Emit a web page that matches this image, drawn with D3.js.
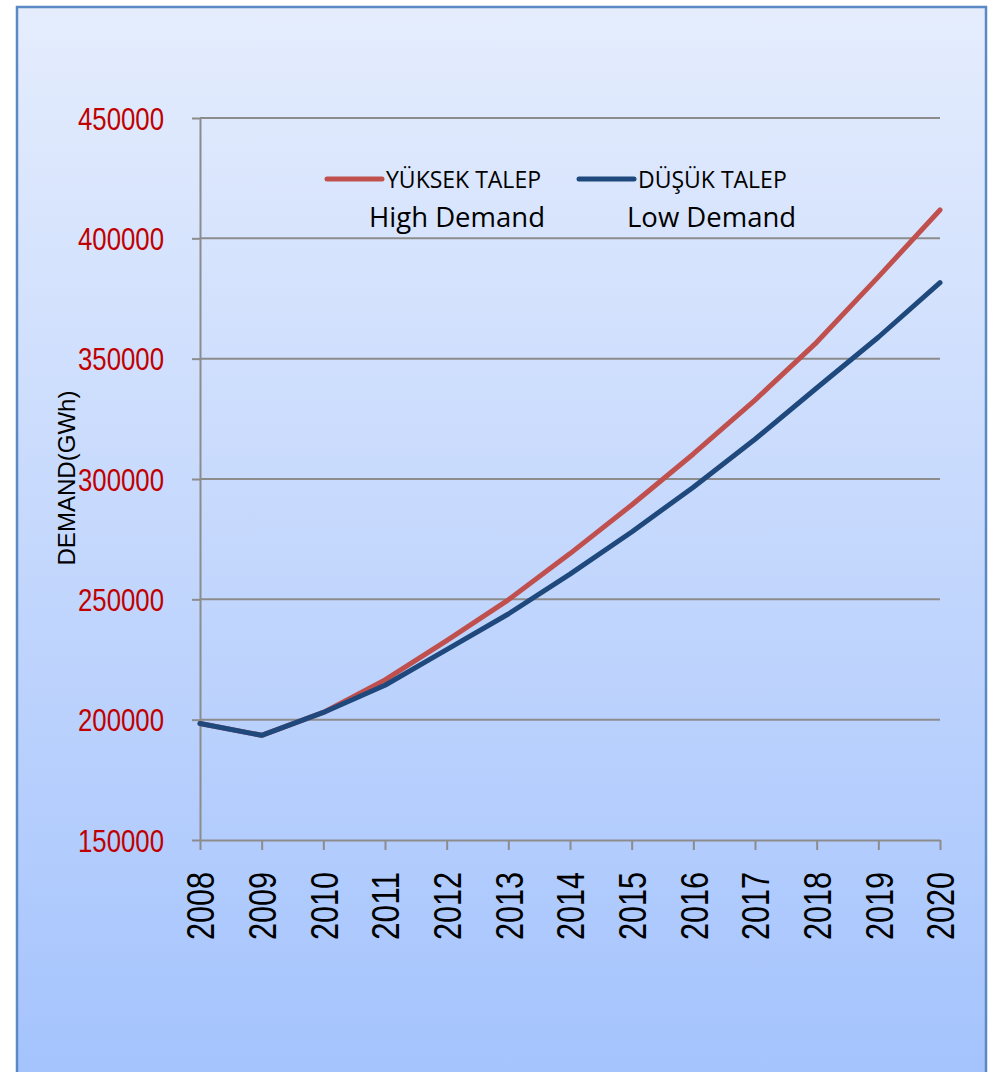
<!DOCTYPE html>
<html>
<head>
<meta charset="utf-8">
<script src="https://cdn.jsdelivr.net/npm/d3@7"></script>
<style>
  body { margin: 0; background: #fff; }
</style>
</head>
<body>
<div id="chart"></div>
<script>
const years = [2008, 2009, 2010, 2011, 2012, 2013, 2014, 2015, 2016, 2017, 2018, 2019, 2020];
const highDemand = [198400, 193500, 203000, 216500, 232800, 249800, 269000, 289200, 310400, 332800, 356800, 384000, 411800];
const lowDemand = [198400, 193500, 203000, 214300, 229100, 243900, 260500, 278000, 296600, 316500, 337800, 358900, 381600];
const yTicks = [150000, 200000, 250000, 300000, 350000, 400000, 450000];
const seriesNames = ["YÜKSEK TALEP", "DÜŞÜK TALEP"];
const seriesNotes = ["High Demand", "Low Demand"];

const outerWidth = 996;
const outerHeight = 1072;
const margin = { left: 200, top: 118, right: 56, bottom: 232 };

const innerWidth = outerWidth - (margin.left + margin.right);
const innerHeight = outerHeight - (margin.top + margin.bottom);

const svg = d3.select('#chart')
    .append('svg')
    .attr('width', outerWidth)
    .attr('height', outerHeight);

const grad = svg.append('defs').append('linearGradient')
    .attr('id', 'bg')
    .attr('x1', 0).attr('y1', 0).attr('x2', 0).attr('y2', 1);
grad.append('stop').attr('offset', '0%').attr('stop-color', '#e5edfd');
grad.append('stop').attr('offset', '100%').attr('stop-color', '#a4c3fd');

// chart frame
svg.append('rect')
    .attr('x', 17).attr('y', 7)
    .attr('width', 969).attr('height', 1075)
    .attr('fill', 'url(#bg)')
    .attr('stroke', '#5b89c4')
    .attr('stroke-width', 2.5);

const xScale = d3.scalePoint()
    .domain(years)
    .range([0, innerWidth]);
const yScale = d3.scaleLinear()
    .domain([150000, 450000])
    .range([innerHeight, 0]);

const g = svg.append('g')
    .attr("transform", "translate(" + margin.left + "," + margin.top + ")");

// gridlines
g.selectAll('.grid')
    .data(yTicks.slice(1))
    .enter()
    .append('line')
    .attr('x1', 0).attr('x2', innerWidth)
    .attr('y1', d => yScale(d)).attr('y2', d => yScale(d))
    .attr('stroke', '#8c8c8c')
    .attr('stroke-width', 2);

const xAxis = d3.axisBottom(xScale)
    .tickSize(10)
    .tickSizeOuter(0);
const yAxis = d3.axisLeft(yScale)
    .tickValues(yTicks)
    .tickFormat(d3.format('d'))
    .tickSize(8)
    .tickPadding(28)
    .tickSizeOuter(0);

const xAxisG = g.append("g")
    .attr("transform", "translate(0," + innerHeight + ")")
    .call(xAxis);
const yAxisG = g.append("g")
    .call(yAxis);

[xAxisG, yAxisG].forEach(a => {
  a.selectAll('path, line').attr('stroke', '#8c8c8c').attr('stroke-width', 2);
});

// narrow look: squeeze the regular sans to the label widths
yAxisG.selectAll('text')
    .attr('fill', '#c00000')
    .style('font-family', '"Liberation Sans", Arial, sans-serif')
    .style('font-size', '31px')
    .attr('textLength', 86)
    .attr('lengthAdjust', 'spacingAndGlyphs')
    .attr('dy', '0.36em');

xAxisG.selectAll('text')
    .attr('fill', '#000')
    .style('font-family', '"Liberation Sans", Arial, sans-serif')
    .style('font-size', '38px')
    .attr('textLength', 68)
    .attr('lengthAdjust', 'spacingAndGlyphs')
    .attr('transform', 'rotate(-90)')
    .attr('text-anchor', 'end')
    .attr('x', -32)
    .attr('y', 0)
    .attr('dy', '0.36em');

// axis title
svg.append('text')
    .attr('transform', 'translate(75,478) rotate(-90)')
    .attr('text-anchor', 'middle')
    .style('font-family', '"Liberation Sans", Arial, sans-serif')
    .style('font-size', '24px')
    .attr('textLength', 175)
    .attr('lengthAdjust', 'spacingAndGlyphs')
    .attr('fill', '#000')
    .text('DEMAND(GWh)');

const line = d3.line()
    .x((d, i) => xScale(years[i]))
    .y(d => yScale(d));

const colors = ['#c0504d', '#1f497d'];
[highDemand, lowDemand].forEach((s, i) => {
  g.append('path')
      .datum(s)
      .attr('d', line)
      .attr('fill', 'none')
      .attr('stroke', colors[i])
      .attr('stroke-width', 5)
      .attr('stroke-linecap', 'round')
      .attr('stroke-linejoin', 'round');
});

// legend
const legendX = [327, 579];
const legend = svg.append('g');
seriesNames.forEach((name, i) => {
  legend.append('line')
      .attr('x1', legendX[i]).attr('x2', legendX[i] + 55)
      .attr('y1', 179).attr('y2', 179)
      .attr('stroke', colors[i])
      .attr('stroke-width', 5)
      .attr('stroke-linecap', 'round');
  legend.append('text')
      .attr('x', legendX[i] + 59)
      .attr('y', 188)
      .style('font-family', '"Open Sans", sans-serif')
      .style('font-size', '23px')
      .attr('fill', '#000')
      .text(name);
});
const noteX = [369, 627];
seriesNotes.forEach((note, i) => {
  legend.append('text')
      .attr('x', noteX[i])
      .attr('y', 227)
      .style('font-family', '"Open Sans", sans-serif')
      .style('font-size', '27.5px')
      .attr('fill', '#000')
      .text(note);
});
</script>
</body>
</html>
